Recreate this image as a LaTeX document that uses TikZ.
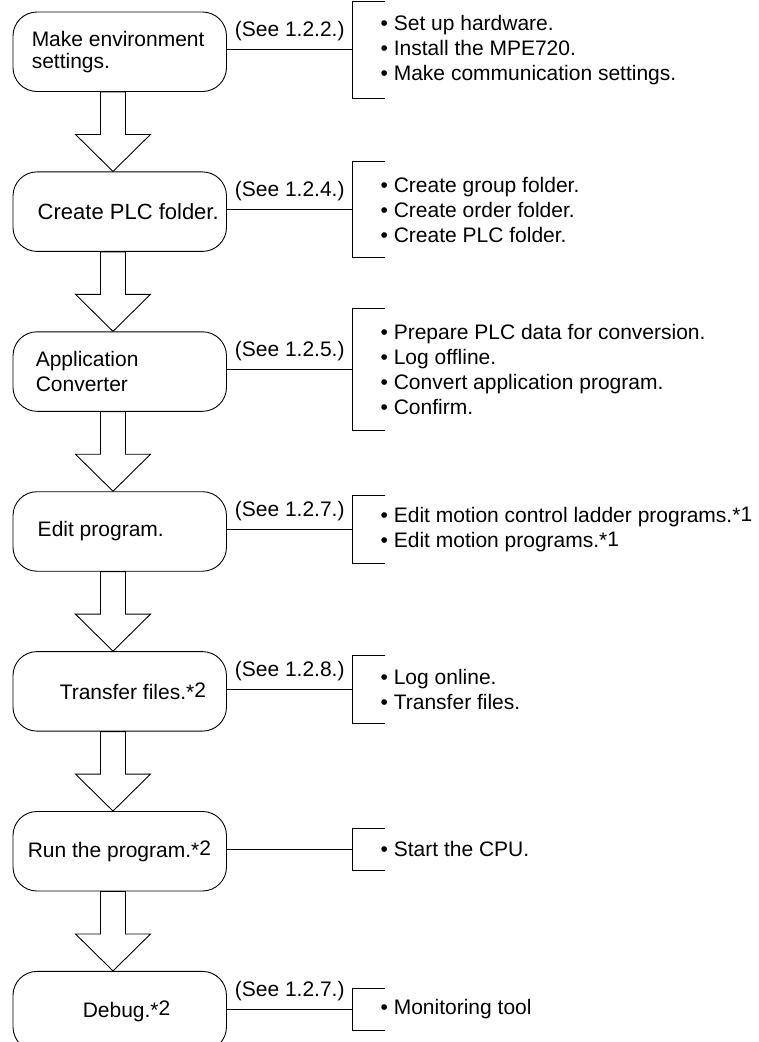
\documentclass[tikz,border=0pt]{standalone}
\usepackage{fontspec}
\setmainfont{Liberation Sans}
\usetikzlibrary{positioning}
\tikzstyle{stepbox} = [
    rectangle,
    rounded corners=24pt,
    minimum width=213.5pt,
    minimum height=79.5pt,
    inner sep=0pt,
    draw=black,
    line width=0.9pt
]
\tikzstyle{steptext} = [
    anchor=west,
    inner sep=0pt,
    align=left,
    font=\fontsize{21pt}{22pt}\selectfont
]
\tikzstyle{seelabel} = [
    midway,
    above=5pt,
    inner sep=3pt,
    font=\fontsize{21pt}{25pt}\selectfont
]
\tikzstyle{link} = [
    line width=0.9pt,
    draw=black
]
\tikzstyle{flow} = [
    line width=0.9pt,
    draw=black,
    line join=miter
]
\tikzset{
    items/.style={
        rectangle,
        minimum height=#1,
        inner xsep=28pt,
        inner ysep=0pt,
        yshift=2pt,
        align=left,
        font=\fontsize{21pt}{25pt}\selectfont
    }
}
\newcommand{\notemark}[1]{*\raisebox{1.5pt}{#1}}

\begin{document}
\begin{tikzpicture}[x=1pt, y=1pt, node distance=79.5pt]
    \useasboundingbox (0,0) rectangle (759,-1042);

    % steps
    \node[stepbox] (env) at (119.75,-51.75) {};
    \node[stepbox, below=of env] (plc) {};
    \node[stepbox, below=of plc] (conv) {};
    \node[stepbox, below=of conv] (edit) {};
    \node[stepbox, below=of edit] (xfer) {};
    \node[stepbox, below=of xfer] (run) {};
    \node[stepbox, below=of run] (debug) {};

    \node[steptext] (env-text) at ([xshift=19pt]env.west) {Make environment\\settings.};
    \node[steptext, font=\fontsize{22pt}{22pt}\selectfont] (plc-text) at ([xshift=25pt]plc.west) {Create PLC folder.};
    \node[steptext] (conv-text) at ([xshift=23pt]conv.west) {Application\\[3pt]Converter};
    \node[steptext] (edit-text) at ([xshift=25pt]edit.west) {Edit program.};
    \node[steptext] (xfer-text) at ([xshift=47pt]xfer.west) {Transfer files.\notemark{2}};
    \node[steptext] (run-text) at ([xshift=15pt]run.west) {Run the program.\notemark{2}};
    \node[steptext] (debug-text) at ([xshift=70pt]debug.west) {Debug.\notemark{2}};

    % hollow arrows
    \foreach \a/\b in {env/plc, plc/conv, conv/edit, edit/xfer, xfer/run, run/debug} {
        \draw[flow] ([xshift=5.75pt]\a.south) -- ([xshift=-19.25pt]\a.south)
            -- ++(0,-42.5) -- ++(-25,0) -- ([xshift=-6.75pt]\b.north)
            -- ++(37.5,37) -- ++(-25,0) -- cycle;
    }

    % item lists
    \node[items=96pt, right=125.5pt of env] (env-list) {\textbullet\ Set up hardware.\\\textbullet\ Install the MPE720.\\\textbullet\ Make communication settings.};
    \node[items=96pt, right=125.5pt of plc] (plc-list) {\textbullet\ Create group folder.\\\textbullet\ Create order folder.\\\textbullet\ Create PLC folder.};
    \node[items=121pt, right=125.5pt of conv] (conv-list) {\textbullet\ Prepare PLC data for conversion.\\\textbullet\ Log offline.\\\textbullet\ Convert application program.\\\textbullet\ Confirm.};
    \node[items=68pt, right=125.5pt of edit] (edit-list) {\textbullet\ Edit motion control ladder programs.\notemark{1}\\\textbullet\ Edit motion programs.\notemark{1}};
    \node[items=67pt, right=125.5pt of xfer] (xfer-list) {\textbullet\ Log online.\\\textbullet\ Transfer files.};
    \node[items=42pt, right=125.5pt of run] (run-list) {\textbullet\ Start the CPU.};
    \node[items=42pt, right=125.5pt of debug] (debug-list) {\textbullet\ Monitoring tool};

    \foreach \l in {env-list, plc-list, conv-list, edit-list, xfer-list, run-list, debug-list} {
        \draw[link] ([xshift=33pt]\l.north west) -- (\l.north west)
            -- (\l.south west) -- ([xshift=33pt]\l.south west);
    }

    % references
    \draw[link] (env.east |- env-list.west) -- node[seelabel] {(See 1.2.2.)} (env-list.west);
    \draw[link] (plc.east |- plc-list.west) -- node[seelabel] {(See 1.2.4.)} (plc-list.west);
    \draw[link] (conv.east |- conv-list.west) -- node[seelabel] {(See 1.2.5.)} (conv-list.west);
    \draw[link] (edit.east |- edit-list.west) -- node[seelabel] {(See 1.2.7.)} (edit-list.west);
    \draw[link] (xfer.east |- xfer-list.west) -- node[seelabel] {(See 1.2.8.)} (xfer-list.west);
    \draw[link] (run.east |- run-list.west) -- (run-list.west);
    \draw[link] (debug.east |- debug-list.west) -- node[seelabel] {(See 1.2.7.)} (debug-list.west);
\end{tikzpicture}
\end{document}
